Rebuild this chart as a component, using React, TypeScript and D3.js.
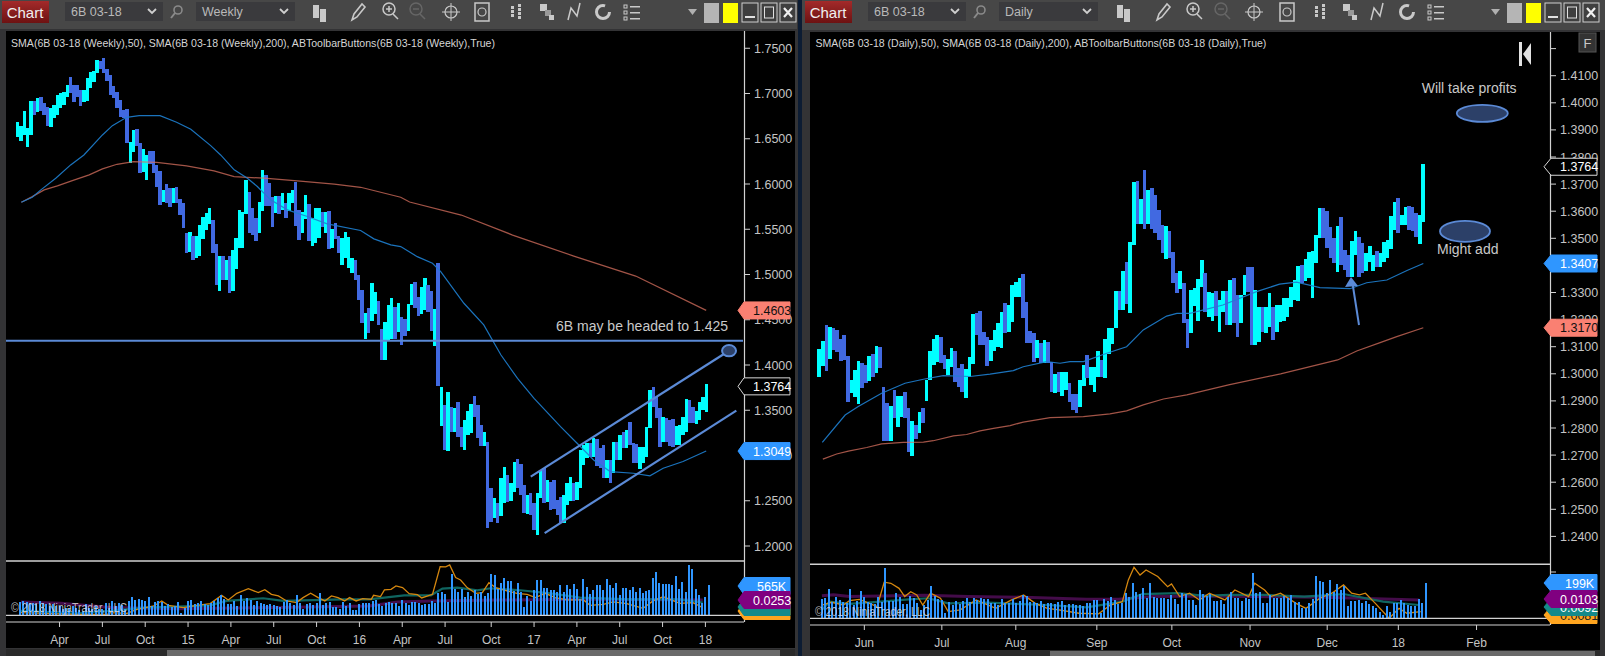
import React from "react";
import * as d3 from "d3";

// ---------- WEEKLY PANEL DATA ----------
const weeklyHigh = [
1.6689,1.6642,1.6807,1.6616,1.6918,1.6918,1.6947,1.6958,1.6899,1.6855,
1.6837,1.6873,1.6984,1.7002,1.7021,1.7094,1.7179,1.7094,1.7094,1.7039,
1.7039,1.7175,1.7241,1.7249,1.7370,1.7363,1.7389,1.7267,1.7205,1.7083,
1.7021,1.6929,1.6818,1.6826,1.6469,1.6597,1.6608,1.6450,1.6384,1.6321,
1.6369,1.6369,1.6211,1.6145,1.5935,1.6001,1.5953,1.5953,1.5972,1.5832,
1.5788,1.5457,1.5475,1.5420,1.5427,1.5549,1.5630,1.5677,1.5740,1.5604,
1.5339,1.5199,1.5199,1.5162,1.5199,1.5273,1.5401,1.5714,1.5696,1.6045,
1.5917,1.5733,1.5622,1.5806,1.6156,1.6101,1.6009,1.5861,1.5869,1.5869,
1.5906,1.5788,1.5906,1.5935,1.6027,1.5714,1.5696,1.5880,1.5780,1.5622,
1.5733,1.5733,1.5696,1.5696,1.5703,1.5501,1.5567,1.5420,1.5401,1.5468,
1.5412,1.5181,1.5155,1.4997,1.4829,1.4579,1.4627,1.4903,1.4811,1.4708,
1.4399,1.4480,1.4664,1.4737,1.4638,1.4682,1.4535,1.4509,1.4671,1.4892,
1.4914,1.4748,1.4859,1.4958,1.4884,1.4818,1.4619,1.5124,1.3761,1.3558,
1.3706,1.3540,1.3522,1.3588,1.3319,1.3393,1.3496,1.3566,1.3658,1.3558,
1.3338,1.3264,1.3154,1.2638,1.2528,1.2473,1.2749,1.2870,1.2786,1.2701,
1.2925,1.2962,1.2907,1.2675,1.2565,1.2591,1.2473,1.2583,1.2841,1.2859,
1.2730,1.2712,1.2730,1.2510,1.2546,1.2565,1.2694,1.2767,1.2694,1.2712,
1.3062,1.3117,1.3135,1.3135,1.3198,1.3179,1.3080,1.3117,1.2951,1.2951,
1.3154,1.3154,1.3227,1.3264,1.3282,1.3374,1.3135,1.3128,1.3098,1.3098,
1.3319,1.3724,1.3761,1.3650,1.3522,1.3422,1.3411,1.3393,1.3400,1.3327,
1.3338,1.3430,1.3621,1.3614,1.3533,1.3496,1.3588,1.3650,1.3790];
const weeklyLow = [
1.6524,1.6476,1.6542,1.6413,1.6542,1.6763,1.6800,1.6811,1.6763,1.6642,
1.6634,1.6726,1.6763,1.6837,1.6873,1.6965,1.7002,1.6910,1.6965,1.6866,
1.6903,1.6921,1.7057,1.7131,1.7223,1.7267,1.7223,1.7142,1.6984,1.6947,
1.6837,1.6745,1.6726,1.6458,1.6237,1.6358,1.6421,1.6126,1.6137,1.6045,
1.6222,1.6119,1.5972,1.5769,1.5806,1.5795,1.5751,1.5788,1.5788,1.5659,
1.5512,1.5236,1.5254,1.5155,1.5181,1.5199,1.5394,1.5493,1.5560,1.5236,
1.4886,1.4813,1.4941,1.4941,1.4794,1.4813,1.5063,1.5291,1.5298,1.5666,
1.5457,1.5438,1.5365,1.5457,1.5707,1.5758,1.5758,1.5530,1.5677,1.5670,
1.5714,1.5622,1.5707,1.5788,1.5541,1.5376,1.5457,1.5615,1.5372,1.5317,
1.5346,1.5401,1.5530,1.5457,1.5280,1.5291,1.5390,1.5236,1.5107,1.5181,
1.5070,1.5015,1.4934,1.4721,1.4469,1.4288,1.4358,1.4491,1.4564,1.4443,
1.4056,1.4056,1.4277,1.4285,1.4288,1.4369,1.4222,1.4325,1.4377,1.4664,
1.4627,1.4546,1.4564,1.4608,1.4590,1.4377,1.4215,1.3773,1.3327,1.3062,
1.3054,1.3264,1.3264,1.3209,1.3098,1.3062,1.3227,1.3246,1.3430,1.3190,
1.3109,1.3109,1.2204,1.2270,1.2307,1.2259,1.2326,1.2480,1.2484,1.2502,
1.2602,1.2638,1.2565,1.2362,1.2355,1.2344,1.2178,1.2123,1.2528,1.2480,
1.2484,1.2399,1.2407,1.2344,1.2252,1.2252,1.2454,1.2502,1.2499,1.2510,
1.2638,1.2896,1.2970,1.2988,1.2988,1.2885,1.2859,1.2749,1.2749,1.2694,
1.2804,1.2951,1.2951,1.3080,1.3080,1.3117,1.2914,1.2914,1.2852,1.2914,
1.2988,1.3301,1.3540,1.3411,1.3098,1.3154,1.3154,1.3106,1.3098,1.3117,
1.3117,1.3227,1.3264,1.3363,1.3356,1.3349,1.3393,1.3503,1.3485];
const weeklyUp = [
1,1,1,1,1,0,1,0,0,0,
1,1,1,1,1,1,0,0,0,0,
1,1,1,1,1,0,0,0,0,0,
0,0,0,0,1,1,0,0,1,1,
0,0,0,0,1,0,0,1,0,0,
0,0,1,0,1,1,1,1,1,0,
0,1,0,1,0,1,1,1,1,1,
0,0,0,1,1,0,0,0,1,0,
1,0,1,1,0,0,1,1,0,1,
1,1,0,1,0,1,0,0,1,1,
1,1,0,0,0,1,0,1,1,0,
0,1,1,1,0,1,0,0,1,1,
0,0,1,1,0,0,1,0,1,0,
1,0,1,0,0,1,1,1,0,0,
0,1,0,0,1,0,1,1,0,1,
1,0,0,0,1,0,0,1,1,0,
1,0,0,0,0,1,1,1,0,1,
1,1,1,0,1,0,0,0,1,0,
1,0,1,0,1,0,0,0,1,1,
1,1,0,0,0,1,0,0,0,1,
1,1,1,0,0,1,1,1,1];
const weeklySma50Idx = [1.1,4.4,7,11.5,16,20,25.6,28.6,32.9,36.7,43,48,52.3,58.3,61.3,65.4,69.4,72.4,76.4,81.5,87.5,93.5,103.6,107.6,112.7,115.7,120.7,125.3,127.8,134.8,140.8,146,151,156,164,169,174,179,186,191,195,201,208];
const weeklySma50Val = [1.5799,1.5854,1.5935,1.6064,1.6211,1.6321,1.6542,1.6645,1.6737,1.6755,1.6755,1.6682,1.6605,1.6424,1.6321,1.6156,1.6064,1.5972,1.5825,1.5714,1.5641,1.556,1.5486,1.5394,1.5328,1.5309,1.5197,1.5124,1.5032,1.4682,1.4443,1.411,1.3853,1.3632,1.3319,1.3135,1.2951,1.2822,1.2804,1.2775,1.2859,1.2933,1.3049];
const weeklySma200Idx = [1.1,4.4,8,12,16.5,21.6,25.6,30,35,42,51,59.3,65.4,74.4,84.5,95.6,103.6,115.7,118.4,134,149.5,168,186.7,208];
const weeklySma200Val = [1.5799,1.5861,1.5935,1.5979,1.6038,1.6101,1.6167,1.6218,1.6248,1.624,1.62,1.6145,1.6082,1.6064,1.6034,1.5998,1.5964,1.5854,1.5801,1.5657,1.5436,1.5204,1.4983,1.4603];
const weeklyPriceTicks = [1.75,1.7,1.65,1.6,1.55,1.5,1.45,1.4,1.35,1.3,1.25,1.2];
const weeklyDateTickIdx = [12,25,38,51,64,77,90,103,116,129,143,156,169,182,195,208];
const weeklyDateTickText = ["Apr","Jul","Oct","15","Apr","Jul","Oct","16","Apr","Jul","Oct","17","Apr","Jul","Oct","18"];
const weeklyChannelUpper = [[155,1.2767],[214.9,1.4158]];
const weeklyChannelLower = [[159.2,1.2142],[217.1,1.3496]];
const weeklyTargetLevel = 1.4268;
const weeklyVolume = [
248,267,254,223,236,205,267,236,205,174,205,174,174,124,143,112,174,143,99,81,205,130,124,174,124,112,223,143,267,174,223,186,124,267,341,279,298,285,267,341,174,254,267,254,174,217,155,167,248,50,136,267,279,205,236,267,205,186,236,267,329,372,298,205,205,267,174,378,267,316,279,186,267,236,205,192,205,186,174,161,248,285,223,192,378,236,112,205,223,186,236,409,186,236,248,161,161,112,254,174,236,99,99,205,236,236,
223,267,285,217,174,223,248,223,223,174,285,223,192,248,248,223,192,211,211,267,223,409,434,391,248,775,496,440,496,341,434,360,465,403,434,360,422,769,750,484,595,688,639,639,453,595,434,155,360,267,471,657,657,502,515,471,471,434,564,434,564,496,583,490,298,676,527,391,471,564,564,471,676,564,508,601,378,508,508,471,527,434,508,415,453,471,694,806,601,583,583,583,564,732,490,620,434,936,862,490,378,229,341,565];
const weeklyOrangeIdx = [0.3,7.3,17.4,26.5,27.5,32.5,35.5,40.6,43,45,49.6,53.7,57.7,61.2,63.2,65.8,69.3,72.3,74.3,76.3,78.4,80.9,83.9,85.9,88.2,90.5,92.5,94.5,96.5,98.5,100,102,104,106.6,107.3,109.4,110.6,112.6,114.1,116.1,118.1,120.6,121.9,125.2,127.5,129.2,130.4,132.2,133.7,135.7,138.3,140.3,142.3,144.3,147.8,150.8,153.9,156.4,159.4,162.4,165.9,171,173,177,180,184.1,189.1,192.1,195.2,200.2,204.2,207.2];
const weeklyOrangeVal = [0.0052,0.0039,0.002,0.002,0.0052,0.0039,0.0117,0.0182,0.028,0.0195,0.015,0.0195,0.0228,0.039,0.0299,0.0429,0.052,0.0442,0.05,0.041,0.0377,0.028,0.0247,0.0345,0.0429,0.0345,0.028,0.0377,0.0345,0.028,0.0345,0.028,0.0325,0.0312,0.039,0.0364,0.0494,0.0507,0.0572,0.054,0.0423,0.0403,0.0338,0.041,0.0949,0.0943,0.0982,0.0735,0.0689,0.054,0.0429,0.0442,0.0637,0.054,0.0475,0.0429,0.041,0.0345,0.0429,0.0345,0.0299,0.0299,0.0195,0.0215,0.026,0.0228,0.0137,0.028,0.0364,0.0234,0.0247,0.015];
const weeklyTealIdx = [0.3,17.4,27.5,37.6,47.6,57.7,62.7,73.8,79.9,98,106,110.6,116.6,124.7,128.2,132.7,138.8,142.8,151.8,161,170,185,200.2,207.2];
const weeklyTealVal = [0.0085,0.0039,0.0085,0.015,0.0169,0.0195,0.028,0.0332,0.028,0.0312,0.0312,0.0345,0.039,0.039,0.052,0.054,0.0488,0.0527,0.0488,0.0429,0.0345,0.0312,0.0312,0.0247];
const weeklyPurpleIdx = [0.3,12.4,27.5,47.6,77.8,106,114.6,124.7,144.8,175,207.2];
const weeklyPurpleVal = [0.026,0.0234,0.015,0.013,0.015,0.0182,0.026,0.028,0.0299,0.0312,0.0299];

// ---------- DAILY PANEL DATA ----------
const dailyHigh = [
1.3092,1.3121,1.3180,1.3174,1.3170,1.3162,1.3129,1.3143,1.3066,1.2977,
1.3014,1.3047,1.3039,1.3033,1.3066,1.3072,1.3103,1.3099,1.2950,1.2891,
1.2881,1.2940,1.2918,1.2918,1.2932,1.2873,1.2826,1.2811,1.2858,1.2873,
1.2977,1.3084,1.3129,1.3143,1.3135,1.3070,1.3054,1.3094,1.3084,1.3020,
1.3035,1.3018,1.3061,1.3221,1.3223,1.3232,1.3156,1.3137,1.3125,1.3162,
1.3189,1.3227,1.3260,1.3254,1.3328,1.3340,1.3352,1.3368,1.3264,1.3158,
1.3152,1.3125,1.3113,1.3125,1.3119,1.3045,1.2999,1.3008,1.3008,1.3008,
1.2965,1.2926,1.2926,1.2977,1.3033,1.3070,1.3026,1.3024,1.3084,1.3051,
1.3129,1.3170,1.3170,1.3306,1.3306,1.3380,1.3411,1.3485,1.3709,1.3712,
1.3645,1.3752,1.3678,1.3687,1.3660,1.3605,1.3549,1.3546,1.3527,1.3451,
1.3371,1.3380,1.3334,1.3201,1.3309,1.3315,1.3349,1.3420,1.3371,1.3301,
1.3297,1.3306,1.3272,1.3306,1.3306,1.3346,1.3352,1.3291,1.3291,1.3365,
1.3395,1.3395,1.3309,1.3248,1.3248,1.3248,1.3297,1.3248,1.3254,1.3254,
1.3279,1.3279,1.3322,1.3346,1.3398,1.3402,1.3424,1.3451,1.3453,1.3512,
1.3611,1.3611,1.3602,1.3543,1.3500,1.3547,1.3580,1.3457,1.3438,1.3490,
1.3527,1.3506,1.3484,1.3447,1.3472,1.3438,1.3453,1.3447,1.3485,1.3494,
1.3582,1.3635,1.3650,1.3586,1.3617,1.3619,1.3617,1.3592,1.3586,1.3774];
const dailyLow = [
1.2990,1.3029,1.3012,1.3055,1.3088,1.3082,1.3049,1.3051,1.2897,1.2928,
1.2916,1.2889,1.2949,1.2965,1.2975,1.2990,1.3004,1.3020,1.2753,1.2753,
1.2753,1.2838,1.2805,1.2840,1.2836,1.2713,1.2698,1.2760,1.2780,1.2817,
1.2901,1.2977,1.3033,1.3045,1.3039,1.3018,1.2996,1.3026,1.2971,1.2953,
1.2934,1.2912,1.2990,1.3036,1.3143,1.3106,1.3106,1.3030,1.3047,1.3084,
1.3100,1.3097,1.3149,1.3156,1.3191,1.3285,1.3285,1.3205,1.3115,1.3113,
1.3045,1.3057,1.3039,1.3039,1.3039,1.2934,1.2928,1.2932,1.2919,1.2940,
1.2897,1.2867,1.2857,1.2879,1.2956,1.2986,1.2959,1.2931,1.2990,1.2990,
1.2986,1.3073,1.3110,1.3168,1.3236,1.3236,1.3258,1.3226,1.3475,1.3553,
1.3553,1.3534,1.3553,1.3534,1.3518,1.3494,1.3445,1.3424,1.3426,1.3334,
1.3300,1.3313,1.3186,1.3097,1.3152,1.3250,1.3196,1.3322,1.3229,1.3211,
1.3196,1.3213,1.3156,1.3229,1.3180,1.3180,1.3186,1.3137,1.3186,1.3291,
1.3303,1.3106,1.3106,1.3119,1.3156,1.3149,1.3174,1.3125,1.3156,1.3192,
1.3196,1.3211,1.3248,1.3272,1.3270,1.3336,1.3343,1.3352,1.3279,1.3408,
1.3500,1.3500,1.3463,1.3426,1.3410,1.3374,1.3402,1.3383,1.3358,1.3358,
1.3438,1.3358,1.3371,1.3381,1.3414,1.3381,1.3395,1.3395,1.3414,1.3426,
1.3459,1.3531,1.3521,1.3549,1.3549,1.3531,1.3528,1.3506,1.3479,1.3561];
const dailyUp = [
1,1,0,1,0,0,0,0,0,1,
1,1,0,0,1,0,1,0,0,0,
1,0,1,1,0,0,1,0,1,0,
1,1,1,1,0,0,1,1,0,0,
0,1,1,1,0,0,0,0,1,1,
1,1,0,1,1,1,1,0,0,0,
0,1,0,1,0,0,1,0,1,1,
0,0,0,1,1,0,1,1,1,0,
1,1,1,1,0,1,0,1,1,0,
1,0,1,0,0,0,0,1,0,0,
0,1,0,0,1,1,1,1,0,1,
1,0,1,1,0,1,0,0,1,1,
0,0,1,1,0,1,1,0,1,1,
1,1,1,1,1,0,1,1,1,1,
1,0,0,0,0,1,0,0,0,1,
1,0,0,1,1,1,0,1,1,1,
1,1,0,1,1,0,0,0,1,1];
const dailySma50Idx = [0.85,7.3,11,17.6,24.2,29.4,35,42.6,48.2,54.8,57.6,64.2,68,70.8,74.6,81.2,86.8,91.5,98.1,101,104.7,114,123.5,130,134.8,141.4,149.9,154.6,160.3,166,170.6];
const dailySma50Val = [1.2747,1.2848,1.2879,1.2928,1.2965,1.298,1.2993,1.299,1.2999,1.3012,1.3026,1.3045,1.3039,1.3045,1.3045,1.3076,1.31,1.3162,1.3213,1.3223,1.3223,1.3254,1.3303,1.3331,1.3338,1.3318,1.3314,1.3336,1.3346,1.3381,1.3407];
const dailySma200Idx = [1,4.9,8.2,13.4,17.6,23.7,29.4,32.2,37.9,41.6,45.4,49.2,53.9,57.6,65.2,74.6,82.1,86.8,91.5,97.2,103.8,115.6,130.3,146.4,151.8,158.4,163.1,170.6];
const dailySma200Val = [1.2685,1.2704,1.2715,1.2728,1.2741,1.2747,1.2748,1.2753,1.2771,1.2776,1.2789,1.2799,1.2809,1.2822,1.2838,1.2842,1.2852,1.2863,1.2885,1.2907,1.2922,1.2959,1.3,1.3051,1.3084,1.3115,1.3137,1.317];
const dailyPriceTicks = [1.42,1.41,1.4,1.39,1.38,1.37,1.36,1.35,1.34,1.33,1.32,1.31,1.3,1.29,1.28,1.27,1.26,1.25,1.24];
const dailyDateTickIdx = [12.7,34.6,55.5,78.4,99.6,121.7,143.5,163.6,185.7];
const dailyDateTickText = ["Jun","Jul","Aug","Sep","Oct","Nov","Dec","18","Feb"];
const dailyVolume = [
110,116,167,95,119,104,95,85,167,76,100,155,119,95,85,81,123,95,286,100,100,142,119,81,80,127,117,85,47,76,104,184,129,108,104,28,95,76,100,81,100,117,95,117,104,117,108,108,85,89,76,108,89,85,108,85,100,135,127,95,91,85,100,81,85,89,80,95,100,76,81,80,76,76,70,89,89,104,104,28,110,100,123,104,80,85,142,119,199,148,138,171,114,199,123,114,117,114,112,133,108,81,142,136,104,104,78,161,138,127,136,100,100,104,81,119,152,114,114,100,117,108,256,142,148,89,85,133,114,117,117,127,114,133,95,95,57,57,85,108,241,212,208,142,218,152,195,161,184,70,100,100,104,89,100,81,70,57,38,19,70,38,85,89,104,85,76,70,72,110,89,199];
const dailyOrangeIdx = [0,2.8,6.1,7.8,10.6,13.4,15.6,17.6,19.5,21.8,23.4,25.1,26.8,28.5,30.7,33.5,35.7,39.1,43.6,49.1,53.6,57,60.3,63.7,67,72.6,78.2,81.5,84.9,86.6,88.2,89.9,91.6,94.9,97.7,98.8,101.1,103.9,106.7,109.5,113.9,116.7,120.6,122.3,125.1,126.8,129.6,134,136.8,140.7,144.1,147.4,149.7,151.9,153.6,156.4,160.3,163.1,165.3,169.2];
const dailyOrangeVal = [0.0063,0.0076,0.0063,0.0084,0.009,0.0071,0.0055,0.0171,0.0166,0.0142,0.0103,0.0126,0.0111,0.0063,0.0119,0.0095,0.0032,0.004,0.0087,0.0047,0.0087,0.0111,0.0071,0.0047,0.004,0.0024,0.0021,0.0063,0.0079,0.0182,0.0242,0.0205,0.0229,0.0198,0.015,0.0163,0.0103,0.0119,0.0087,0.0119,0.0087,0.0134,0.0103,0.0166,0.0134,0.0103,0.0119,0.0071,0.0047,0.0095,0.0119,0.0158,0.0119,0.0111,0.0119,0.0071,0,0.0047,0.0024,0.0032];
const dailyTealIdx = [0,2.2,7.8,16.7,24.6,30.1,35.7,46.9,63.7,74.8,84.9,90.5,100.5,108.3,115,125.1,136.3,147.4,158.6,168.7];
const dailyTealVal = [0.004,0.0079,0.0068,0.0079,0.009,0.0095,0.0071,0.0074,0.0063,0.0052,0.0079,0.0115,0.0119,0.0106,0.0111,0.0111,0.0103,0.0115,0.0079,0.0063];
const dailyPurpleIdx = [0,3.3,7.8,16.7,29,41.3,57,74.8,83.8,93.8,108.3,141.8,168.7];
const dailyPurpleVal = [0.0107,0.0112,0.0103,0.0106,0.0109,0.0103,0.01,0.009,0.009,0.0103,0.0106,0.01,0.0087];

const zip = (a: number[], b: number[]) => a.map((v, i) => [v, b[i]] as [number, number]);
const UI = "'Liberation Sans', Arial, sans-serif";
const ANN = "#5b8ad6";

function tag(tipX: number, x0: number, x1: number, cy: number, h = 17) {
  return `M${tipX},${cy}L${x0},${cy - h / 2}L${x1},${cy - h / 2}L${x1},${cy + h / 2}L${x0},${cy + h / 2}Z`;
}

function Tag({ tip, x0, x1, cy, fill, stroke, text, color, tx }: any) {
  return (
    <g>
      <path d={tag(tip, x0, x1, cy)} fill={fill} stroke={stroke} strokeWidth={1} />
      <text x={tx} y={cy + 4.5} fill={color} fontSize={12.5} fontFamily={UI}>{text}</text>
    </g>
  );
}

function Toolbar({ dx, combo2, ix }: { dx: number; combo2: string; ix: number[] }) {
  const c = "#c9c9c9";
  return (
    <g fontFamily={UI}>
      <defs>
        <linearGradient id={"red" + dx} x1="0" y1="0" x2="0" y2="1">
          <stop offset="0" stopColor="#a32a2a" /><stop offset="1" stopColor="#6d1212" />
        </linearGradient>
      </defs>
      <rect x={dx + 2} y={1} width={47} height={22} fill={`url(#red${dx})`} />
      <text x={dx + 25} y={18} fill="#f0f0f0" fontSize={15} textAnchor="middle">Chart</text>
      <rect x={dx + 65} y={2} width={98} height={19} fill="#3a3a3d" />
      <text x={dx + 71} y={16} fill="#b9b9b9" fontSize={12.5}>6B 03-18</text>
      <path d={`M${dx + 148},9l4,4l4,-4`} fill="none" stroke="#cfcfcf" strokeWidth={1.8} />
      <circle cx={dx + 178} cy={10} r={4} fill="none" stroke="#8a8a8a" strokeWidth={1.6} />
      <path d={`M${dx + 175},13l-4,5`} stroke="#8a8a8a" strokeWidth={2} />
      <rect x={dx + 196} y={2} width={99} height={19} fill="#3a3a3d" />
      <text x={dx + 202} y={16} fill="#b9b9b9" fontSize={12.5}>{combo2}</text>
      <path d={`M${dx + 280},9l4,4l4,-4`} fill="none" stroke="#cfcfcf" strokeWidth={1.8} />
      <rect x={ix[0] - 7} y={5} width={6} height={13} fill={c} /><rect x={ix[0]} y={9} width={6} height={13} fill={c} />
      <path d={`M${ix[1] - 6},20l2,-6l8,-10l3,3l-8,10z`} fill="none" stroke={c} strokeWidth={1.6} />
      <circle cx={ix[2]} cy={9} r={6} fill="none" stroke={c} strokeWidth={1.5} />
      <path d={`M${ix[2] - 3},9h6M${ix[2]},6v6M${ix[2] + 4},14l5,5`} stroke={c} strokeWidth={1.5} />
      <circle cx={ix[3]} cy={9} r={6} fill="none" stroke="#666" strokeWidth={1.5} />
      <path d={`M${ix[3] - 3},9h6M${ix[3] + 4},14l5,5`} stroke="#666" strokeWidth={1.5} />
      <circle cx={ix[4]} cy={12} r={6} fill="none" stroke={c} strokeWidth={1.2} />
      <path d={`M${ix[4] - 9},12h18M${ix[4]},3v18`} stroke={c} strokeWidth={1} />
      <rect x={ix[5] - 7} y={3} width={14} height={18} fill="none" stroke={c} strokeWidth={1.5} />
      <circle cx={ix[5]} cy={12} r={4} fill="none" stroke={c} strokeWidth={1.2} />
      {[0, 1, 2].map((k) => <rect key={k} x={ix[6] - 5} y={6 + k * 4} width={3} height={3} fill={c} />)}
      {[0, 1, 2, 3].map((k) => <rect key={k} x={ix[6] + 2} y={4 + k * 4} width={3} height={3} fill={c} />)}
      <rect x={ix[7] - 7} y={4} width={7} height={7} fill={c} /><rect x={ix[7] - 2} y={10} width={6} height={6} fill="#999" /><rect x={ix[7] + 2} y={15} width={5} height={5} fill={c} />
      <path d={`M${ix[8] - 6},20l3,-12l6,8l3,-13`} fill="none" stroke={c} strokeWidth={1.5} />
      <circle cx={ix[9]} cy={12} r={6.5} fill="none" stroke={c} strokeWidth={3} strokeDasharray="32 8" />
      {[0, 1, 2].map((k) => (
        <g key={k}>
          <rect x={ix[10] - 7} y={5 + k * 6} width={3} height={3} fill="none" stroke={c} />
          <rect x={ix[10] - 1} y={6 + k * 6} width={10} height={1.5} fill={c} />
        </g>
      ))}
      <path d={`M${dx + 688},9h9l-4.5,6z`} fill="#b0b0b0" />
      <rect x={dx + 704} y={3} width={15} height={20} fill="#b5b5b5" />
      <rect x={dx + 723} y={3} width={15} height={20} fill="#ffff00" />
      {[742, 761, 780].map((px) => <rect key={px} x={dx + px} y={3} width={16} height={19} fill="#3f3f3f" stroke="#cfcfcf" />)}
      <path d={`M${dx + 745},17h10`} stroke="#e0e0e0" strokeWidth={2} />
      <rect x={dx + 764.5} y={7} width={9} height={11} fill="none" stroke="#e0e0e0" />
      <path d={`M${dx + 784},8l8,9M${dx + 792},8l-8,9`} stroke="#f0f0f0" strokeWidth={2.2} />
    </g>
  );
}

function PricePanel(props: any) {
  const { xBar, xOver, y, high, low, up, sma50, sma200, barW } = props;
  const line = d3.line<[number, number]>().x((d) => xOver(d[0])).y((d) => y(d[1]));
  return (
    <g>
      <g shapeRendering="crispEdges">
        {high.map((h: number, i: number) => (
          <rect key={i} x={xBar(i) - barW / 2} y={y(h)} width={barW} height={Math.max(1, y(low[i]) - y(h))} fill={up[i] ? "#00ffff" : "#4169e1"} />
        ))}
      </g>
      <path d={line(sma200) || ""} fill="none" stroke="#d8705f" strokeOpacity={0.75} strokeWidth={1.25} />
      <path d={line(sma50) || ""} fill="none" stroke="#1e7fd0" strokeOpacity={0.9} strokeWidth={1.2} />
    </g>
  );
}

function VolPanel(props: any) {
  const { xVol, xOsc, yVol, yOsc, vol, orange, teal, purple } = props;
  const line = d3.line<[number, number]>().x((d) => xOsc(d[0])).y((d) => yOsc(d[1]));
  return (
    <g>
      <path d={line(purple) || ""} fill="none" stroke="#440c4a" strokeWidth={3} />
      <path d={line(teal) || ""} fill="none" stroke="#0f6560" strokeWidth={2.2} />
      <path d={line(orange) || ""} fill="none" stroke="#d5870f" strokeWidth={1.3} />
      <g shapeRendering="crispEdges">
        {vol.map((v: number, i: number) => (
          <rect key={i} x={xVol(i) - 1} y={yVol(v)} width={2} height={yVol(0) - yVol(v)} fill="#2f96ff" />
        ))}
      </g>
    </g>
  );
}

export default function App() {
  const wx = d3.scaleLinear().domain([0, weeklyHigh.length - 1]).range([17.7, 706.2]);
  const wy = d3.scaleLinear().domain([1.2, 1.75]).range([546, 48.25]);
  const wvx = d3.scaleLinear().domain([0, weeklyVolume.length - 1]).range([20, 708.7]);
  const wvy = d3.scaleLinear().domain([0, 1010]).range([615.3, 561]);
  const woy = d3.scaleLinear().domain([0, 0.1059]).range([615.3, 561]);
  const dx = d3.scaleLinear().domain([0, dailyHigh.length - 1]).range([819.3, 1423.3]);
  const dxo = d3.scaleLinear().domain([0, 170.6]).range([819.3, 1423.3]);
  const dy = d3.scaleLinear().domain([1.31, 1.41]).range([346.7, 75.7]);
  const dvx = d3.scaleLinear().domain([0, dailyVolume.length - 1]).range([821.9, 1425.6]);
  const dvxo = d3.scaleLinear().domain([0, 170.6]).range([821.9, 1425.6]);
  const dvy = d3.scaleLinear().domain([0, 307]).range([618.3, 564.3]);
  const doy = d3.scaleLinear().domain([0, 0.0256]).range([618.3, 564.3]);

  const tickC = "#c4c4c4";
  const lineC = "#d2d2d2";
  const iconsL = [320, 358, 389, 416, 451, 482, 516, 547, 574, 603, 631];
  const iconsR = [1124, 1163, 1193, 1221, 1254, 1287, 1320, 1350, 1377, 1407, 1435];

  return (
    <svg width={1605} height={656} viewBox="0 0 1605 656" style={{ position: "absolute", left: 0, top: 0, display: "block" }}>
      <rect width={1605} height={656} fill="#333335" />
      <rect x={0} y={0} width={797} height={29} fill="#474747" />
      <rect x={802} y={0} width={803} height={30} fill="#474747" />
      <rect x={798} y={0} width={4} height={656} fill="#0c1c33" />

      <Toolbar dx={0} combo2="Weekly" ix={iconsL} />
      <Toolbar dx={803} combo2="Daily" ix={iconsR} />

      {/* ---- left chart ---- */}
      <rect x={6} y={31} width={738} height={591} fill="#000" />
      <rect x={744} y={31} width={51} height={617} fill="#000" />
      <rect x={6} y={622} width={738} height={26} fill="#000" />
      <text x={11} y={47} fill="#d6d6d6" fontSize={11} fontFamily={UI} textLength={484} lengthAdjust="spacingAndGlyphs">SMA(6B 03-18 (Weekly),50), SMA(6B 03-18 (Weekly),200), ABToolbarButtons(6B 03-18 (Weekly),True)</text>

      <PricePanel xBar={wx} xOver={wx} y={wy} high={weeklyHigh} low={weeklyLow} up={weeklyUp} barW={3.4}
        sma50={zip(weeklySma50Idx, weeklySma50Val)} sma200={zip(weeklySma200Idx, weeklySma200Val)} />

      <line x1={6} x2={743} y1={wy(weeklyTargetLevel)} y2={wy(weeklyTargetLevel)} stroke={ANN} strokeWidth={2} />
      <text x={556} y={331} fill="#c9c9c9" fontSize={14} fontFamily={UI}>6B may be headed to 1.425</text>
      {[weeklyChannelUpper, weeklyChannelLower].map((c, i) => (
        <line key={i} x1={wx(c[0][0])} y1={wy(c[0][1])} x2={wx(c[1][0])} y2={wy(c[1][1])} stroke={ANN} strokeWidth={2.2} />
      ))}
      <ellipse cx={wx(weeklyChannelUpper[1][0])} cy={wy(weeklyChannelUpper[1][1])} rx={7} ry={5.6} fill="#2c4068" stroke={ANN} strokeWidth={2} />

      <line x1={6} x2={744} y1={561} y2={561} stroke={lineC} strokeWidth={1.4} />
      <VolPanel xVol={wvx} xOsc={wvx} yVol={wvy} yOsc={woy} vol={weeklyVolume}
        orange={zip(weeklyOrangeIdx, weeklyOrangeVal)} teal={zip(weeklyTealIdx, weeklyTealVal)} purple={zip(weeklyPurpleIdx, weeklyPurpleVal)} />
      <text x={11} y={612} fill="#d8d8d8" fillOpacity={0.85} fontSize={12} fontFamily={UI} textLength={116} lengthAdjust="spacingAndGlyphs">© 2018 NinjaTrader, LLC</text>
      <line x1={6} x2={744} y1={615.3} y2={615.3} stroke={lineC} strokeWidth={1.2} />
      <line x1={6} x2={744} y1={622} y2={622} stroke={lineC} strokeWidth={1.2} />
      <line x1={744.5} x2={744.5} y1={31} y2={622} stroke={lineC} strokeWidth={1.2} />

      {weeklyPriceTicks.map((t) => (
        <g key={t}>
          <line x1={744} x2={750} y1={wy(t)} y2={wy(t)} stroke={lineC} />
          <text x={754} y={wy(t) + 4.5} fill={tickC} fontSize={12.5} fontFamily={UI}>{t.toFixed(4)}</text>
        </g>
      ))}
      {weeklyDateTickIdx.map((t, i) => (
        <g key={i}>
          <line x1={wvx(t)} x2={wvx(t)} y1={622} y2={627} stroke={lineC} />
          <text x={wvx(t)} y={644} fill={tickC} fontSize={12} fontFamily={UI} textAnchor="middle">{weeklyDateTickText[i]}</text>
        </g>
      ))}
      <Tag tip={738} x0={744} x1={790} cy={wy(1.4603)} fill="#fa8072" stroke="#fa8072" text="1.4603" color="#111" tx={753} />
      <Tag tip={738} x0={744} x1={790} cy={wy(1.3764)} fill="#000" stroke="#d8d8d8" text="1.3764" color="#fff" tx={753} />
      <Tag tip={738} x0={744} x1={790} cy={wy(1.3049)} fill="#2f96ff" stroke="#2f96ff" text="1.3049" color="#fff" tx={753} />
      <Tag tip={738} x0={744} x1={790} cy={611} fill="#ffa51f" stroke="#ffa51f" text="0.0181" color="#222" tx={753} />
      <Tag tip={738} x0={744} x1={790} cy={607} fill="#158a8a" stroke="#158a8a" text="" color="#fff" tx={753} />
      <Tag tip={738} x0={744} x1={790} cy={586} fill="#2f96ff" stroke="#2f96ff" text="565K" color="#fff" tx={757} />
      <Tag tip={738} x0={744} x1={790} cy={600} fill="#800080" stroke="#800080" text="0.0253" color="#fff" tx={753} />
      <rect x={6} y={649} width={789} height={7} fill="#2a2a2a" />
      <rect x={167} y={650} width={613} height={6} fill="#6a6a6a" />

      {/* ---- right chart ---- */}
      <rect x={810} y={32} width={740} height={593} fill="#000" />
      <rect x={1550} y={32} width={50} height={618} fill="#000" />
      <rect x={810} y={625} width={740} height={25} fill="#000" />
      <text x={815.4} y={47} fill="#d6d6d6" fontSize={11} fontFamily={UI} textLength={451} lengthAdjust="spacingAndGlyphs">SMA(6B 03-18 (Daily),50), SMA(6B 03-18 (Daily),200), ABToolbarButtons(6B 03-18 (Daily),True)</text>

      <PricePanel xBar={dx} xOver={dxo} y={dy} high={dailyHigh} low={dailyLow} up={dailyUp} barW={3.7}
        sma50={zip(dailySma50Idx, dailySma50Val)} sma200={zip(dailySma200Idx, dailySma200Val)} />

      <text x={1421.7} y={93} fill="#c9c9c9" fontSize={14} fontFamily={UI}>Will take profits</text>
      <ellipse cx={1482.3} cy={113.3} rx={25.5} ry={8.5} fill="#2c4068" stroke={ANN} strokeWidth={1.8} />
      <ellipse cx={1465} cy={231.3} rx={25} ry={10.5} fill="#2c4068" stroke={ANN} strokeWidth={1.8} />
      <text x={1437} y={254} fill="#c9c9c9" fontSize={14} fontFamily={UI}>Might add</text>
      <line x1={1359} y1={325} x2={1352} y2={280} stroke={ANN} strokeWidth={2} />
      <path d="M1351,277L1345,287L1358,286Z" fill={ANN} />

      <line x1={810} x2={1550} y1={564.3} y2={564.3} stroke={lineC} strokeWidth={1.4} />
      <VolPanel xVol={dvx} xOsc={dvxo} yVol={dvy} yOsc={doy} vol={dailyVolume}
        orange={zip(dailyOrangeIdx, dailyOrangeVal)} teal={zip(dailyTealIdx, dailyTealVal)} purple={zip(dailyPurpleIdx, dailyPurpleVal)} />
      <text x={815} y={616} fill="#d8d8d8" fillOpacity={0.85} fontSize={12} fontFamily={UI} textLength={115} lengthAdjust="spacingAndGlyphs">© 2018 NinjaTrader, LLC</text>
      <line x1={810} x2={1550} y1={618.3} y2={618.3} stroke={lineC} strokeWidth={1.2} />
      <line x1={810} x2={1550} y1={625} y2={625} stroke={lineC} strokeWidth={1.2} />
      <line x1={1550.5} x2={1550.5} y1={32} y2={625} stroke={lineC} strokeWidth={1.2} />

      {dailyPriceTicks.map((t) => (
        <g key={t}>
          <line x1={1550} x2={1556} y1={dy(t)} y2={dy(t)} stroke={lineC} />
          {t < 1.415 && <text x={1560} y={dy(t) + 4.5} fill={tickC} fontSize={12.5} fontFamily={UI}>{t.toFixed(4)}</text>}
        </g>
      ))}
      {dailyDateTickIdx.map((t, i) => (
        <g key={i}>
          <line x1={dvxo(t) - 2.5} x2={dvxo(t) - 2.5} y1={625} y2={630} stroke={lineC} />
          <text x={dvxo(t) - 2.5} y={647} fill={tickC} fontSize={12} fontFamily={UI} textAnchor="middle">{dailyDateTickText[i]}</text>
        </g>
      ))}
      <line x1={1550} x2={1556} y1={572} y2={572} stroke={lineC} />
      <rect x={1579} y={33} width={17} height={19} fill="#333" stroke="#555" />
      <text x={1587.5} y={47.5} fill="#c8c8c8" fontSize={13} fontFamily={UI} textAnchor="middle">F</text>
      <rect x={1519} y={42} width={3} height={24} fill="#e2e2e2" />
      <path d="M1523,54L1531,43V65Z" fill="#e2e2e2" />

      <Tag tip={1544} x0={1551} x1={1597} cy={dy(1.317)} fill="#fa8072" stroke="#fa8072" text="1.3170" color="#111" tx={1560} />
      <Tag tip={1544} x0={1551} x1={1597} cy={dy(1.3764)} fill="#000" stroke="#d8d8d8" text="1.3764" color="#fff" tx={1560} />
      <Tag tip={1544} x0={1551} x1={1597} cy={dy(1.3407)} fill="#2f96ff" stroke="#2f96ff" text="1.3407" color="#fff" tx={1560} />
      <Tag tip={1544} x0={1551} x1={1597} cy={615} fill="#ffa51f" stroke="#ffa51f" text="0.0081" color="#222" tx={1560} />
      <Tag tip={1544} x0={1551} x1={1597} cy={607} fill="#158a8a" stroke="#158a8a" text="0.0092" color="#fff" tx={1560} />
      <Tag tip={1544} x0={1551} x1={1597} cy={583} fill="#2f96ff" stroke="#2f96ff" text="199K" color="#fff" tx={1565} />
      <Tag tip={1544} x0={1551} x1={1597} cy={599} fill="#800080" stroke="#800080" text="0.0103" color="#fff" tx={1560} />
      <rect x={810} y={650} width={790} height={6} fill="#2a2a2a" />
      <rect x={1050} y={651} width={545} height={5} fill="#6a6a6a" />
    </svg>
  );
}
